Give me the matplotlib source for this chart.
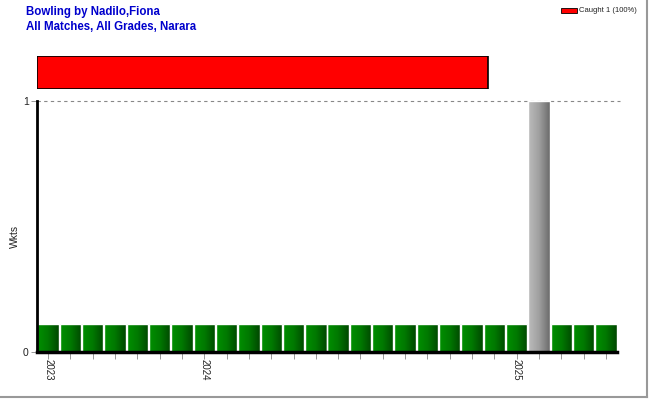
import numpy as np
import matplotlib
matplotlib.use("Agg")
import matplotlib.pyplot as plt
from matplotlib.colors import LinearSegmentedColormap
from matplotlib.patches import Rectangle

plt.rcParams['font.family'] = ['Liberation Sans', 'DejaVu Sans']

# ---- data ----
title_lines = ["Bowling by Nadilo,Fiona", "All Matches, All Grades, Narara"]
match_idx = list(range(26))
wickets = [0, 0, 0, 0, 0, 0, 0, 0, 0, 0, 0, 0, 0, 0, 0, 0, 0, 0, 0, 0, 0, 0, 1, 0, 0, 0]
played_marker = [0.11] * 26
year_ticks = [0, 7, 21]
year_labels = ["2023", "2024", "2025"]
dismissal_types = ["Caught"]
dismissal_counts = [1]
dismissal_pct = [100]
dismissal_colors = ["#ff0000"]

W, H = 650, 400
fig = plt.figure(figsize=(W / 100, H / 100), dpi=100)

ax_l, ax_r = 37, 617
ax_t, ax_b = 101, 352
ax = fig.add_axes([ax_l / W, (H - ax_b) / H, (ax_r - ax_l) / W, (ax_b - ax_t) / H])

green_cmap = LinearSegmentedColormap.from_list("g", ["#009000", "#007800", "#004800"])
gray_cmap = LinearSegmentedColormap.from_list("k", ["#bcbcbc", "#a0a0a0", "#6c6c6c"])
grad = np.linspace(0, 1, 32).reshape(1, -1)
bw = 0.96
heights = []
for i, w, m in zip(match_idx, wickets, played_marker):
    h = w if w > 0 else m
    heights.append(h)
    cmap = gray_cmap if w > 0 else green_cmap
    ax.imshow(grad, cmap=cmap, aspect="auto", interpolation="bilinear",
              extent=(i - bw / 2, i + bw / 2, 0, h), zorder=2)
# white separators between bars
ax.bar(match_idx, heights, width=bw, facecolor="none", edgecolor="white", linewidth=1.0, zorder=3)
ax.set_xlim(-0.5, len(match_idx) - 0.5)
ax.set_ylim(0, 1)

for s in ["top", "right"]:
    ax.spines[s].set_visible(False)
ax.spines["left"].set_linewidth(2)
ax.spines["bottom"].set_linewidth(2.5)
ax.spines["left"].set_zorder(5)
ax.spines["bottom"].set_zorder(5)

ax.plot([-0.5, len(match_idx) - 0.35], [1, 1], ls=(0, (3, 3)), color="#888888",
        lw=0.8, clip_on=False, zorder=1)

ax.set_xticks(match_idx)
ax.set_xticklabels([year_labels[year_ticks.index(i)] if i in year_ticks else "" for i in match_idx],
                   rotation=270, fontsize=7, color="#222222")
ax.tick_params(axis="x", length=5, width=0.6, color="#888888", pad=0)
ax.set_yticks([0, 1])
ax.set_yticklabels(["0", "1"], fontsize=7.5, color="#222222")
ax.tick_params(axis="y", length=4, width=0.6, color="#888888", pad=2)
fig.text(15 / W, 1 - 236 / H, "Wkts", rotation=90, fontsize=7.5, ha="center", va="center",
         color="#222222")

# dismissal bar
tot = sum(dismissal_counts)
bx = fig.add_axes([37 / W, (H - 89) / H, (ax_r + 3 - 37) / W, 33 / H])
left = 0
for c, col in zip(dismissal_counts, dismissal_colors):
    bx.barh([0], [c], left=left, height=1, color=col, edgecolor="black", linewidth=1.2)
    left += c
bx.set_xlim(0, tot * (583 / 451))
bx.set_ylim(-0.5, 0.5)
bx.axis("off")

# legend
for k, (t, c, p, col) in enumerate(zip(dismissal_types, dismissal_counts, dismissal_pct, dismissal_colors)):
    fig.patches.append(Rectangle((561 / W, 1 - 13 / H), 16 / W, 5 / H, facecolor=col,
                                 edgecolor="black", linewidth=0.6, transform=fig.transFigure))
    fig.text(579 / W, 1 - 10.5 / H, f"{t} {c} ({p}%)", fontsize=5.5, va="center", ha="left",
             color="#222222")

# titles
fig.text(26 / W, 1 - 12 / H, title_lines[0], fontsize=8.3, fontweight="bold", color="#0000cc", va="center")
fig.text(26 / W, 1 - 27 / H, title_lines[1], fontsize=8.3, fontweight="bold", color="#0000cc", va="center")

# frame border
fig.add_artist(plt.Line2D([647 / W, 647 / W], [3 / H, 1], color="#999999", lw=1.5, transform=fig.transFigure))
fig.add_artist(plt.Line2D([0, 647 / W], [3 / H, 3 / H], color="#999999", lw=1.5, transform=fig.transFigure))

fig.savefig("out.png", dpi=100)
